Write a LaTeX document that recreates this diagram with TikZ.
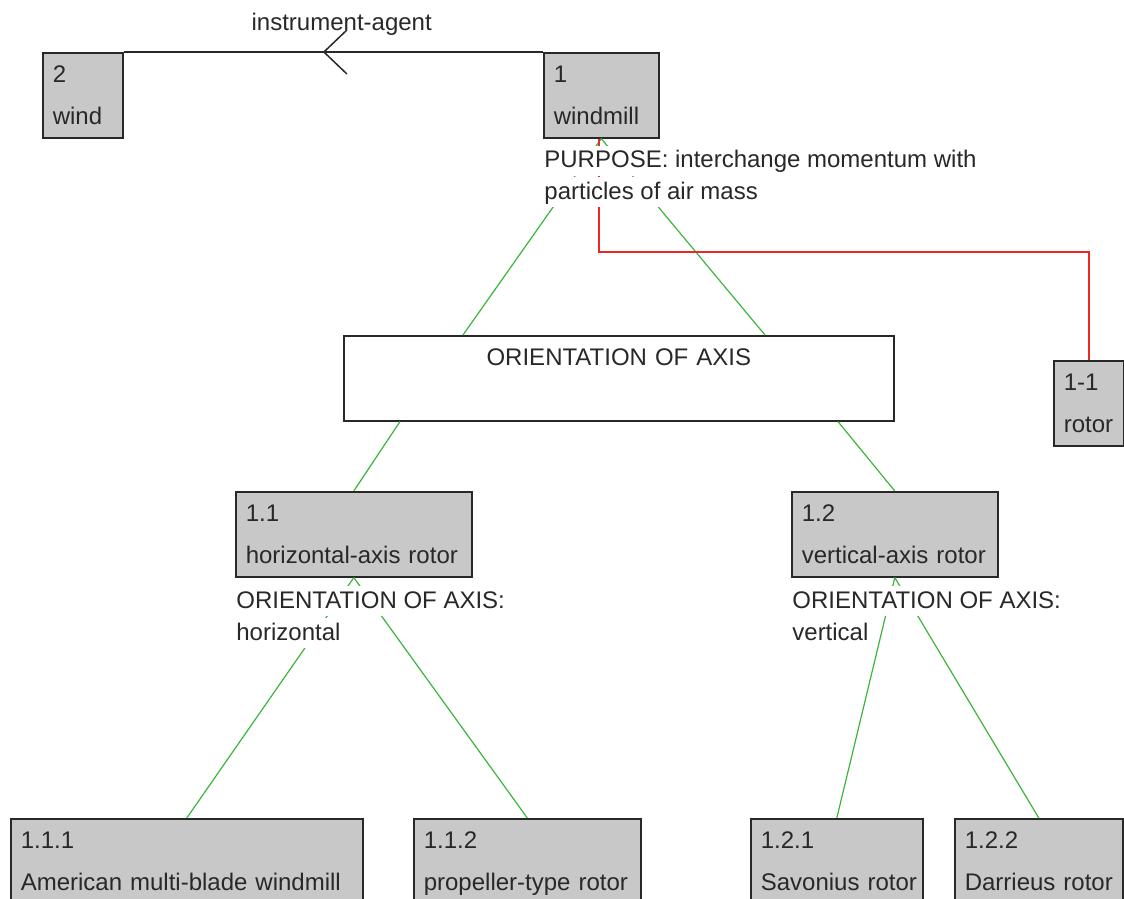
\documentclass[tikz,border=0pt]{standalone}
\usepackage{fontspec}
\setmainfont{Liberation Sans}
\usetikzlibrary{arrows.meta,calc,decorations.markings}
\definecolor{boxgray}{RGB}{200,200,200}
\definecolor{linkgreen}{RGB}{60,180,60}
\definecolor{linkred}{RGB}{235,40,40}
\definecolor{inkgray}{RGB}{40,40,40}

\begin{document}
\begin{tikzpicture}[x=0.5pt,y=-0.5pt,
  concept/.style={draw=inkgray,line width=0.8pt,fill=boxgray,anchor=north west,align=left,
    inner xsep=5pt,inner ysep=6.5pt,text height=8.5pt,text depth=21pt,
    font=\fontsize{12}{21}\selectfont,text=inkgray,
    execute at begin node={\hyphenpenalty=10000 \exhyphenpenalty=10000 }},
  facet/.style={fill=white,anchor=base west,inner xsep=0.5pt,inner ysep=2pt,
    text height=9pt,text depth=2pt,font=\fontsize{12}{15}\selectfont,text=inkgray},
  sublink/.style={draw=linkgreen,line width=0.6pt},
  partlink/.style={draw=linkred,line width=1pt}]
\useasboundingbox (0,0) rectangle (1124,899);
\clip (0,0) rectangle (1124,899);

\node[concept,text width=30pt] (wind) at (42,52) {2\\wind};
\node[concept,text width=47.5pt] (windmill) at (543,52) {1\\windmill};
\node[concept,fill=white,align=center,text width=265pt] (orient) at (343,335) {ORIENTATION~OF~AXIS};
\node[concept,text width=25pt] (rotor) at (1053,360) {1-1\\rotor};

\node[concept,text width=108pt] (hrotor) at (235,491) {1.1\\horizontal-axis~rotor};
\node[concept,text width=93pt] (vrotor) at (791,491) {1.2\\vertical-axis~rotor};

\node[concept,text width=166pt] (american) at (10,818) {1.1.1\\American~multi-blade~windmill};
\node[concept,text width=103.5pt] (propeller) at (413,818) {1.1.2\\propeller-type~rotor};
\node[concept,text width=76pt] (savonius) at (750,818) {1.2.1\\Savonius~rotor};
\node[concept,text width=74pt] (darrieus) at (954,818) {1.2.2\\Darrieus~rotor};

% relation between the two concepts
\draw[line width=0.75pt,inkgray,
  postaction={decorate,decoration={markings,
    mark=at position 0.525 with {\arrow{Straight Barb[length=11.5pt,width=22pt]}}}}]
  (windmill.north west) -- node[pos=0.48,anchor=base,yshift=10.5pt,
    font=\fontsize{12}{15}\selectfont,text=inkgray] (relname) {instrument-agent}
  (wind.north east);

% subtypes
\draw[sublink] (windmill.south) -- ($(orient.north west)+(120,0)$);
\draw[sublink] (windmill.south) -- ($(orient.north west)+(422,0)$);
\draw[sublink] ($(orient.south west)+(57,0)$) -- (hrotor.north);
\draw[sublink] ($(orient.south west)+(495,0)$) -- (vrotor.north);
\draw[sublink] (hrotor.south) -- (american.north);
\draw[sublink] (hrotor.south) -- (propeller.north);
\draw[sublink] (vrotor.south) -- (savonius.north);
\draw[sublink] (vrotor.south) -- (darrieus.north);

% part
\draw[partlink] ([xshift=-1pt]windmill.south) -- ++(0,113) -| (rotor.north);

\node[facet] (purpose1) at (543,168) {PURPOSE: interchange momentum with};
\node[facet] (purpose2) at (543,199) {particles of air mass};
\node[facet] (haxis1) at (235,608) {ORIENTATION OF AXIS:};
\node[facet] (haxis2) at (235,640) {horizontal};
\node[facet] (vaxis1) at (791,608) {ORIENTATION OF AXIS:};
\node[facet] (vaxis2) at (791,640) {vertical};

\end{tikzpicture}
\end{document}
